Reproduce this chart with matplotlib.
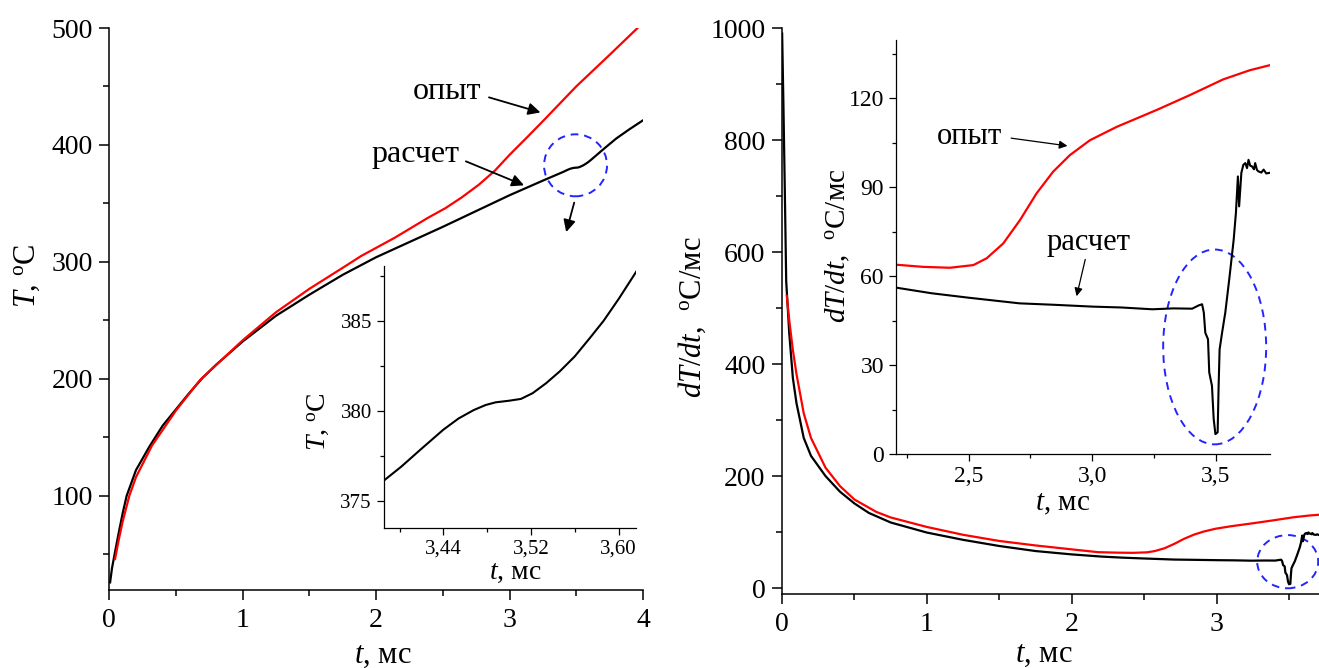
import numpy as np
import matplotlib
matplotlib.use('Agg')
import matplotlib.pyplot as plt
from matplotlib.patches import Ellipse
from matplotlib.ticker import FuncFormatter, MultipleLocator

plt.rcParams['font.family'] = ['Liberation Serif', 'DejaVu Serif']
plt.rcParams['mathtext.fontset'] = 'custom'
plt.rcParams['mathtext.rm'] = 'Liberation Serif'
plt.rcParams['mathtext.it'] = 'Liberation Serif:italic'

## left panel: temperature T(t)
t_calc = [0.006, 0.02, 0.043, 0.07, 0.1, 0.13, 0.2, 0.3, 0.4, 0.5, 0.6, 0.7, 0.8, 0.9, 1.0,
          1.25, 1.5, 1.75, 2.0, 2.25, 2.5, 2.75, 3.0, 3.1, 3.25,
          3.3855, 3.4015, 3.42, 3.44, 3.4538, 3.4677, 3.4785, 3.4877, 3.5001, 3.5108,
          3.5215, 3.5339, 3.5462, 3.56, 3.574, 3.5862, 3.60, 3.6164,
          3.7, 3.8, 3.9, 4.0]
T_calc = [26, 38, 52, 68, 85, 100, 122, 142, 160, 174, 188, 201, 212, 222, 232,
          254, 272, 289, 304, 317, 330, 343.5, 357, 362, 369.5,
          376.13, 376.91, 377.91, 378.97, 379.59, 380.06, 380.34, 380.49, 380.58, 380.68,
          381.0, 381.56, 382.21, 383.05, 384.09, 385.02, 386.24, 387.79,
          396, 405.5, 413.5, 421]
t_exp = [0.043, 0.07, 0.1, 0.15, 0.2, 0.32, 0.5, 0.68, 1.0, 1.25, 1.5, 1.75, 1.887, 2.14,
         2.39, 2.52, 2.64, 2.77, 2.89, 3.0, 3.14, 3.26, 3.5, 3.75, 3.96]
T_exp = [46, 62, 78, 100, 116, 143, 173, 199, 233, 257, 277, 295, 305, 320.7,
         337.8, 346, 355, 366, 378, 391.5, 407.5, 421.5, 450, 477, 500]

## right panel: heating rate dT/dt
r_t_calc = [0.001, 0.01, 0.02, 0.029, 0.05, 0.075, 0.1, 0.15, 0.2, 0.3, 0.4, 0.5, 0.6, 0.75,
            1.0, 1.25, 1.5, 1.75, 2.0, 2.206, 2.35, 2.5, 2.706, 2.85, 3.0, 3.12, 3.243,
            3.33, 3.405, 3.431, 3.445,
            3.452, 3.458, 3.469, 3.474, 3.485, 3.492, 3.499, 3.508, 3.512, 3.516, 3.526,
            3.539, 3.555, 3.573, 3.582, 3.59, 3.595, 3.604, 3.612, 3.62, 3.627, 3.633,
            3.64, 3.647, 3.655, 3.66, 3.667, 3.673, 3.685, 3.694, 3.705, 3.718]
r_v_calc = [990, 860, 700, 548, 455, 375, 330, 268, 236, 200, 172, 151, 134, 117,
            99, 86, 75, 66, 60, 56.1, 54.2, 52.7, 50.8, 50.3, 49.7, 49.4, 48.8,
            49.1, 49.0, 50.1, 50.5,
            47.7, 40.9, 38.7, 27.5, 23.0, 11.8, 6.7, 7.3, 23, 35.3, 40.9,
            47.7, 58.9, 72.3, 81.3, 93.6, 83.5, 94.8, 97.5, 98.1, 96.4, 99.2,
            97.2, 97.0, 96.0, 98.1, 95.8, 95.3, 94.9, 95.9, 94.6, 94.8]
r_t_exp = [0.033, 0.05, 0.075, 0.1, 0.15, 0.2, 0.3, 0.4, 0.5, 0.65, 0.75, 1.0, 1.25, 1.5,
           1.75, 2.0, 2.181, 2.316, 2.424, 2.519, 2.573, 2.64, 2.708, 2.775, 2.842,
           2.91, 2.991, 3.099, 3.261, 3.395, 3.53, 3.638, 3.719]
r_v_exp = [522, 478, 425, 382, 312, 268, 215, 182, 158, 136, 126, 109, 95, 84,
           76, 69, 64.0, 63.1, 62.8, 63.7, 66.0, 71.0, 78.9, 87.9, 95.2,
           100.8, 105.8, 110.3, 116.0, 121.0, 126.3, 129.4, 131.1]

fig = plt.figure(figsize=(13.19, 6.68), dpi=100)

def style(ax, lw=1.1, ticksize=20):
    ax.spines['top'].set_visible(False)
    ax.spines['right'].set_visible(False)
    for s in ('left', 'bottom'):
        ax.spines[s].set_linewidth(lw)
    ax.tick_params(which='both', direction='out', width=lw, labelsize=ticksize)
    ax.tick_params(which='major', length=7)
    ax.tick_params(which='minor', length=4)

red = '#ff0000'
blue = '#2424ff'
arrow = dict(arrowstyle='-|>', color='k', lw=1.3, mutation_scale=18, shrinkA=0, shrinkB=0)
arrow_s = dict(arrowstyle='-|>', color='k', lw=0.9, mutation_scale=12, shrinkA=0, shrinkB=0)
W, H = 1319, 668

# ---------- left main
ax1 = fig.add_axes([109.3/W, 1-590/H, 533.6/W, 562/H])
ax1.plot(t_calc, T_calc, color='k', lw=1.6)
ax1.plot(t_exp, T_exp, color=red, lw=1.6)
ax1.set_xlim(0, 4)
ax1.set_ylim(19.5, 500)
ax1.set_xticks([0, 1, 2, 3, 4])
ax1.set_yticks([100, 200, 300, 400, 500])
ax1.xaxis.set_minor_locator(MultipleLocator(0.5))
ax1.set_yticks(np.arange(50, 500, 100), minor=True)
style(ax1)
ax1.tick_params(axis='x', which='major', pad=6)
ax1.tick_params(axis='y', which='major', pad=5)
ax1.set_xlabel(r'$t$, мс', fontsize=22)
ax1.xaxis.label.set_verticalalignment('baseline')
ax1.set_ylabel(r'$T$, $^{\rm o}$C', fontsize=22)
ax1.xaxis.set_label_coords(0.512, -0.129)
ax1.yaxis.set_label_coords(-0.126, 0.559)
ax1.text(2.531, 439.7, 'опыт', fontsize=23, ha='center', va='baseline')
ax1.annotate('', xy=(3.232, 427.8), xytext=(2.846, 440.7), arrowprops=arrow)
ax1.text(2.294, 385.6, 'расчет', fontsize=23, ha='center', va='baseline')
ax1.annotate('', xy=(3.109, 365.5), xytext=(2.673, 386), arrowprops=arrow)
ax1.add_patch(Ellipse((3.495, 382.6), 0.472, 53, fill=False, ec=blue, lw=1.4, ls=(0, (4, 3))))
ax1.annotate('', xy=(3.425, 325.5), xytext=(3.485, 350.7), arrowprops=arrow)

# ---------- left inset
ax1i = fig.add_axes([383.7/W, 1-528/H, 252.5/W, 262.5/H])
ax1i.plot(t_calc, T_calc, color='k', lw=1.5)
ax1i.set_xlim(3.3855, 3.616)
ax1i.set_ylim(373.5, 388.1)
ax1i.set_xticks([3.44, 3.52, 3.60])
ax1i.set_xticks([3.40, 3.48, 3.56], minor=True)
ax1i.set_yticks([375, 380, 385])
ax1i.set_yticks([377.5, 382.5, 387.5], minor=True)
style(ax1i, lw=0.9, ticksize=15)
ax1i.tick_params(which='major', length=5)
ax1i.tick_params(which='minor', length=3)
ax1i.xaxis.set_major_formatter(FuncFormatter(lambda v, p: f'{v:.2f}'.replace('.', ',')))
ax1i.set_xlabel(r'$t$, мс', fontsize=20)
ax1i.set_ylabel(r'$T$, $^{\rm o}$C', fontsize=20)
ax1i.xaxis.set_label_coords(0.523, -0.122)
ax1i.yaxis.set_label_coords(-0.21, 0.404)
ax1i.patch.set_alpha(0)

# ---------- right main
ax2 = fig.add_axes([782/W, 1-594/H, 537/W, 566/H])
ax2.plot(r_t_calc, r_v_calc, color='k', lw=1.6)
ax2.plot(r_t_exp, r_v_exp, color=red, lw=1.6)
ax2.set_xlim(0, 3.706)
ax2.set_ylim(-10.7, 1000)
ax2.set_xticks([0, 1, 2, 3])
ax2.xaxis.set_minor_locator(MultipleLocator(0.5))
ax2.set_yticks([0, 200, 400, 600, 800, 1000])
ax2.set_yticks(np.arange(100, 1000, 200), minor=True)
style(ax2)
ax2.tick_params(axis='x', which='major', pad=6)
ax2.tick_params(axis='y', which='major', pad=5)
ax2.set_xlabel(r'$t$, мс', fontsize=22)
ax2.xaxis.label.set_verticalalignment('baseline')
ax2.set_ylabel(r'$dT/dt$,  $^{\rm o}$C/мс', fontsize=22)
ax2.xaxis.set_label_coords(0.488, -0.120)
ax2.yaxis.set_label_coords(-0.138, 0.49)
ax2.add_patch(Ellipse((3.49, 47), 0.421, 95, fill=False, ec=blue, lw=1.4,
                      ls=(0, (4, 3)), clip_on=False))

# ---------- right inset
ax2i = fig.add_axes([895.8/W, 1-454/H, 374.2/W, 414/H])
ax2i.plot(r_t_calc, r_v_calc, color='k', lw=1.5)
ax2i.plot(r_t_exp, r_v_exp, color=red, lw=1.6)
ax2i.set_xlim(2.205, 3.72)
ax2i.set_ylim(0, 139.6)
ax2i.set_xticks([2.5, 3.0, 3.5])
ax2i.set_xticks([2.25, 2.75, 3.25], minor=True)
ax2i.set_yticks([0, 30, 60, 90, 120])
ax2i.set_yticks([15, 45, 75, 105, 135], minor=True)
style(ax2i, lw=0.9, ticksize=17)
ax2i.tick_params(which='major', length=5)
ax2i.tick_params(which='minor', length=3)
ax2i.xaxis.set_major_formatter(FuncFormatter(lambda v, p: f'{v:.1f}'.replace('.', ',')))
ax2i.set_xlabel(r'$t$, мс', fontsize=21)
ax2i.set_ylabel(r'$dT/dt$,  $^{\rm o}$C/мс', fontsize=21)
ax2i.xaxis.set_label_coords(0.447, -0.089)
ax2i.yaxis.set_label_coords(-0.118, 0.502)
ax2i.patch.set_alpha(0)
ax2i.text(2.505, 104.6, 'опыт', fontsize=22, ha='center', va='baseline')
ax2i.annotate('', xy=(2.90, 103.9), xytext=(2.672, 106.5), arrowprops=arrow_s)
ax2i.text(2.987, 68.9, 'расчет', fontsize=22, ha='center', va='baseline')
ax2i.annotate('', xy=(2.937, 53.2), xytext=(2.972, 65.6), arrowprops=arrow_s)
ax2i.add_patch(Ellipse((3.496, 36.1), 0.417, 65.7, fill=False, ec=blue, lw=1.4,
                       ls=(0, (4, 3)), clip_on=False))

fig.savefig('out.png', dpi=100)
